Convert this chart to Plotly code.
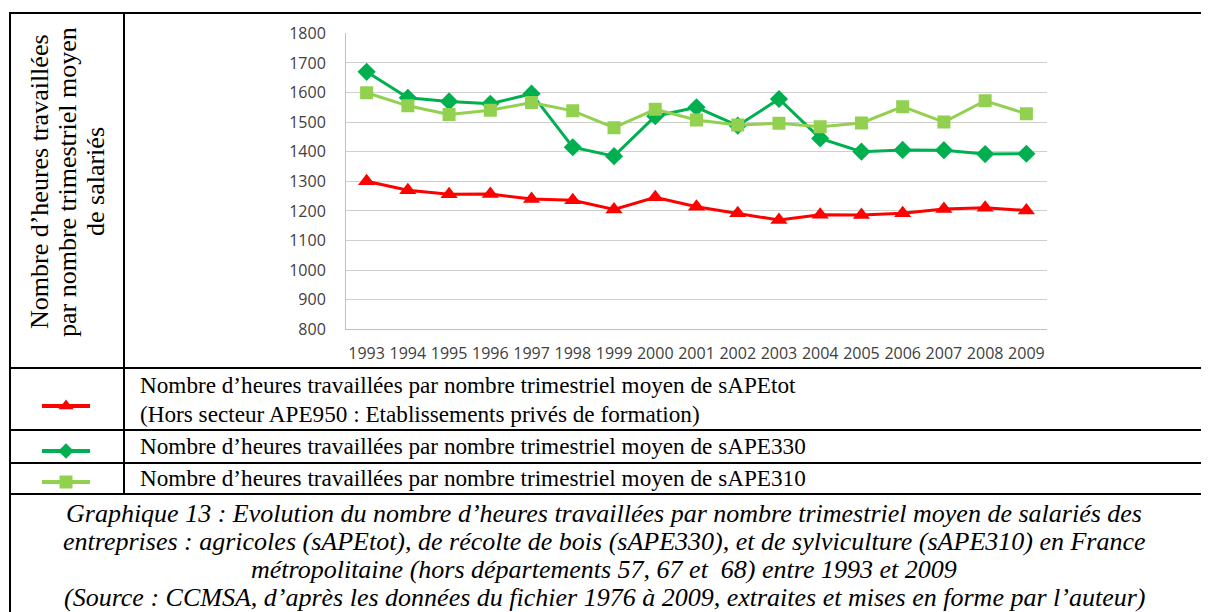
import plotly.graph_objects as go

# --- data ---
years = [str(y) for y in range(1993, 2010)]
sape_tot = [1300, 1270, 1256, 1257, 1240, 1236, 1205, 1246, 1214, 1192, 1169, 1187, 1186, 1192, 1206, 1211, 1201]
sape_330 = [1670, 1582, 1570, 1562, 1596, 1415, 1385, 1520, 1550, 1488, 1578, 1445, 1400, 1406, 1405, 1392, 1393]
sape_310 = [1599, 1555, 1526, 1540, 1566, 1538, 1481, 1543, 1507, 1490, 1496, 1484, 1497, 1552, 1500, 1572, 1528]

y_ticks = list(range(800, 1801, 100))

y_title = ["Nombre d’heures travaillées", "par nombre trimestriel moyen", "de salariés"]
legend_tot = ["Nombre d’heures travaillées par nombre trimestriel moyen de sAPEtot",
              "(Hors secteur APE950 : Etablissements privés de formation)"]
legend_330 = "Nombre d’heures travaillées par nombre trimestriel moyen de sAPE330"
legend_310 = "Nombre d’heures travaillées par nombre trimestriel moyen de sAPE310"
caption = [
    "Graphique 13 : Evolution du nombre d’heures travaillées par nombre trimestriel moyen de salariés des",
    "entreprises : agricoles (sAPEtot), de récolte de bois (sAPE330), et de sylviculture (sAPE310) en France",
    "métropolitaine (hors départements 57, 67 et  68) entre 1993 et 2009",
    "(Source : CCMSA, d’après les données du fichier 1976 à 2009, extraites et mises en forme par l’auteur)",
]

RED = "#FF0000"
DARK_GREEN = "#00B050"
LIGHT_GREEN = "#92D050"

W, H = 1209, 612
OFF = 8  # page body margin: the figure sits 8px in from the window corner
SERIF = "Liberation Serif, Times New Roman, serif"


def fx(px):
    return (px - OFF) / W


def fy(py):
    return 1 - (py - OFF) / H


fig = go.Figure()

# the three series, on the chart cell
fig.add_trace(go.Scatter(x=years, y=sape_330, mode="lines+markers", name="sAPE330",
                         line=dict(color=DARK_GREEN, width=3),
                         marker=dict(symbol="diamond", size=14, color=DARK_GREEN)))
fig.add_trace(go.Scatter(x=years, y=sape_310, mode="lines+markers", name="sAPE310",
                         line=dict(color=LIGHT_GREEN, width=3),
                         marker=dict(symbol="square", size=13, color=LIGHT_GREEN)))
fig.add_trace(go.Scatter(x=years, y=sape_tot, mode="lines+markers", name="sAPEtot",
                         line=dict(color=RED, width=3),
                         marker=dict(symbol="triangle-up", size=15, color=RED)))

# --- legend keys in the table (pixel axes x2/y2, window pixels) ---
key_rows = [(RED, "triangle-up", 13, 406), (DARK_GREEN, "diamond", 12, 451), (LIGHT_GREEN, "square", 13, 482)]
shapes = []
for color, symbol, size, yk in key_rows:
    shapes.append(dict(type="line", xref="x2", yref="y2", x0=42, x1=90, y0=yk, y1=yk,
                       line=dict(color=color, width=4)))
    fig.add_trace(go.Scatter(x=[66], y=[yk], xaxis="x2", yaxis="y2", mode="markers",
                             marker=dict(symbol=symbol, size=size, color=color),
                             showlegend=False, hoverinfo="skip"))

# --- table borders ---
black = dict(color="black", width=2)
for yl in [13, 368, 430, 463, 494]:
    shapes.append(dict(type="line", xref="x2", yref="y2", x0=9, x1=W + OFF, y0=yl, y1=yl, line=black))
shapes.append(dict(type="line", xref="x2", yref="y2", x0=10, x1=10, y0=13, y1=H + OFF, line=black))
shapes.append(dict(type="line", xref="x2", yref="y2", x0=124, x1=124, y0=13, y1=494, line=black))
shapes.append(dict(type="line", xref="x2", yref="y2", x0=1204, x1=1204, y0=494, y1=H + OFF, line=black))

annotations = []
for i, line in enumerate(y_title):
    annotations.append(dict(text=line, xref="x2", yref="y2", x=39 + i * 28, y=182, textangle=-90,
                            showarrow=False, font=dict(family=SERIF, size=26, color="black")))
legend_lines = [(legend_tot[0], 385), (legend_tot[1], 414), (legend_330, 446), (legend_310, 478)]
for text, yl in legend_lines:
    annotations.append(dict(text=text, xref="x2", yref="y2", x=138, y=yl, xanchor="left",
                            showarrow=False, font=dict(family=SERIF, size=23.2, color="black")))
for i, line in enumerate(caption):
    annotations.append(dict(text="<i>" + line + "</i>", xref="x2", yref="y2", x=604, y=513 + i * 28,
                            showarrow=False, font=dict(family=SERIF, size=26, color="black")))

fig.update_layout(
    width=W, height=H,
    margin=dict(l=0, r=0, t=0, b=0, pad=0),
    paper_bgcolor="white", plot_bgcolor="rgba(0,0,0,0)",
    showlegend=False,
    font=dict(family="Open Sans, sans-serif"),
    xaxis=dict(domain=[fx(346), fx(1047)], type="category", range=[-0.5, 16.5],
               showgrid=False, showline=True, linecolor="#BFBFBF", linewidth=1,
               tickangle=0, ticks="", ticklabelstandoff=9, automargin=False,
               tickfont=dict(size=16, color="#404040"), anchor="y"),
    yaxis=dict(domain=[fy(329.3), fy(33.3)], range=[800, 1800],
               tickvals=y_ticks, showgrid=True, gridcolor="#CFCFCF", gridwidth=1,
               showline=True, linecolor="#BFBFBF", linewidth=1, zeroline=False, automargin=False,
               ticks="", ticklabelstandoff=16, tickfont=dict(size=16, color="#404040"), anchor="x"),
    xaxis2=dict(domain=[0, 1], range=[OFF, W + OFF], visible=False, anchor="y2", automargin=False),
    yaxis2=dict(domain=[0, 1], range=[H + OFF, OFF], visible=False, anchor="x2", automargin=False),
    shapes=shapes,
    annotations=annotations,
)

fig.write_html("out.html")
